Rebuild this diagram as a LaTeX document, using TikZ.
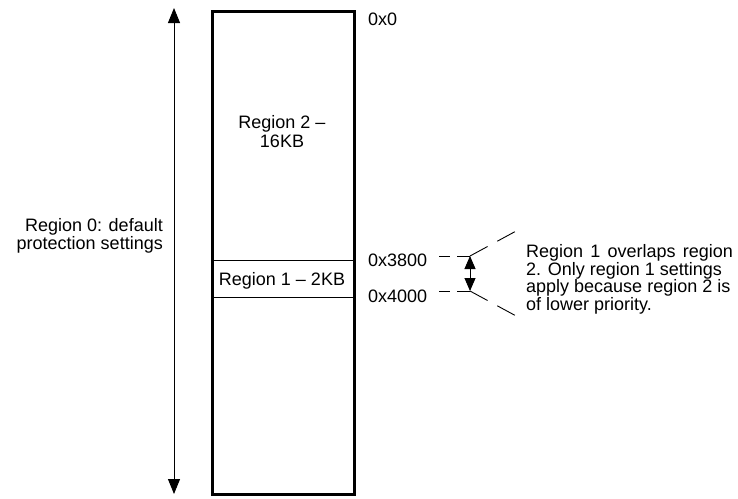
\documentclass[tikz,border=0pt]{standalone}
\usepackage{fontspec}
\setmainfont{Liberation Sans}
\usetikzlibrary{arrows.meta}

\tikzset{
  memtext/.style={font=\fontsize{18}{16.7}\selectfont, inner sep=0pt},
  addrdash/.style={line width=0.9pt, dash pattern=on 11pt off 7pt on 14pt},
  spandash/.style={line width=0.9pt, dash pattern=on 20pt off 11pt},
  bigtip/.tip={Triangle[length=15pt,width=12pt]},
  smalltip/.tip={Triangle[length=13pt,width=11pt]}
}

\begin{document}
\begin{tikzpicture}[x=1pt,y=-1pt]
        \useasboundingbox (0,0) rectangle (738,498);

        % Memory block
        \node[draw, line width=3pt, inner sep=0pt, minimum width=141.5pt,
              minimum height=483pt, anchor=north west] (mem) at (211,10) {};
        \coordinate (r1top) at (211,260);
        \coordinate (r1bot) at (211,297);
        \draw[line width=0.9pt] (r1top) -- (r1top -| mem.east);
        \draw[line width=0.9pt] (r1bot) -- (r1bot -| mem.east);

        % Region labels
        \node[memtext, font=\fontsize{18}{19}\selectfont, align=center, anchor=north] (reg2) at (282,115) {Region 2 –\\16KB};
        \node[memtext, anchor=base] (reg1) at (282,285) {Region 1 – 2KB};

        % Region 0 (whole map)
        \coordinate (maptop) at (174,8);
        \coordinate (mapbot) at (174,494);
        \draw[line width=0.9pt, bigtip-bigtip] (maptop) -- (mapbot);
        \node[memtext, align=right, anchor=north east] (reg0) at (163,218) {Region 0: default\\protection settings};

        % Addresses
        \node[memtext, anchor=base west] (a0) at (368,25) {0x0};
        \node[memtext, anchor=base west] (a38) at (368,266) {0x3800};
        \node[memtext, anchor=base west] (a40) at (368,302) {0x4000};

        % Overlap marker
        \coordinate (o38) at (470,256);
        \coordinate (o40) at (470,291);
        \draw[addrdash] (439,256) -- (o38);
        \draw[addrdash] (439,291) -- (o40);
        \draw[line width=0.9pt, smalltip-smalltip] (o38) -- (o40);
        \draw[spandash] (o38) -- (518,230);
        \draw[spandash] (o40) -- (518,317);

        % Note
        \node[memtext, align=left, anchor=north west] (note) at (526,244)
            {\spaceskip=0.4em Region 1 overlaps region\\2. Only region 1 settings\\apply because region 2 is\\of lower priority.};
\end{tikzpicture}
\end{document}
